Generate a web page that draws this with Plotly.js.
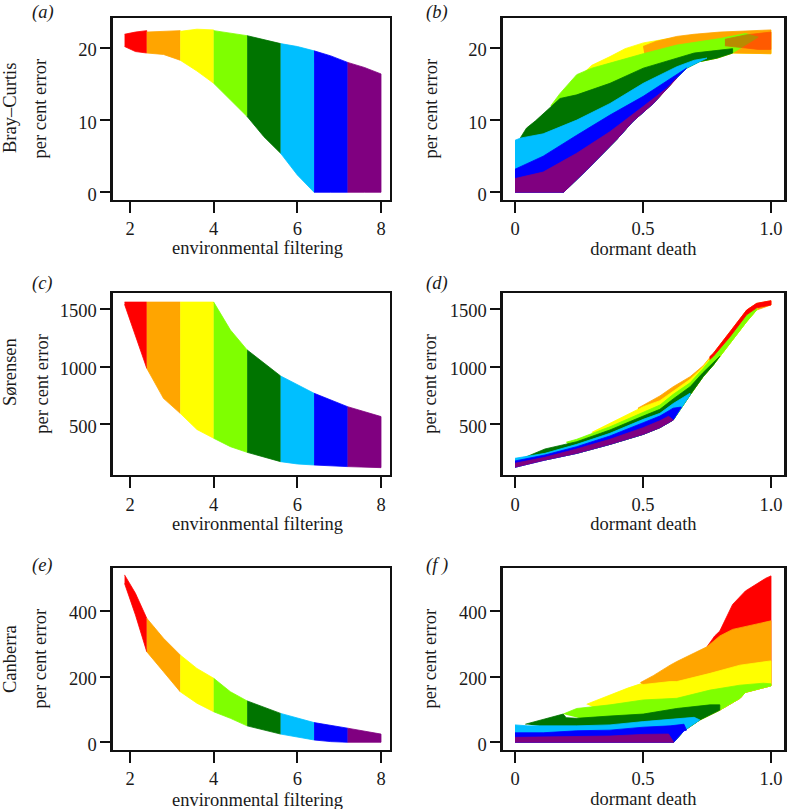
<!DOCTYPE html>
<html>
<head>
<meta charset="utf-8">
<script src="https://cdn.plot.ly/plotly-3.0.1.min.js"></script>
<style>html,body{margin:0;padding:0;background:#fff}#chart{width:787px;height:809px}</style>
</head>
<body>
<div id="chart"></div>
<script>
// colour bands, lowest parameter first
const bandColors = ['#ff0000','#ffa500','#ffff00','#7fff00','#007400','#00bfff','#0000ff','#800080'];

// ---- left column: x per band
const leftX = [[1.87,2.13,2.4],[2.4,2.8,3.2],[3.2,3.6,4],[4,4.4,4.8],[4.8,5.2,5.6],[5.6,6,6.4],[6.4,6.8,7.2],[7.2,7.6,8]];

const aTop = [[21.9,22.2,22.4],[22.2,22.3,22.4],[22.3,22.6,22.5],[22.4,22.1,21.7],[21.7,21.2,20.6],[20.6,20.2,19.6],[19.6,18.9,18],[18,17.3,16.4]];
const aBot = [[20.2,19.5,19.3],[19.3,19.1,18.3],[18.3,16.8,15.1],[15.1,12.8,10.5],[10.5,7.7,5.4],[5.4,2.4,0],[0,0,0],[0,0,0]];

const cTop = [[1560,1560,1560],[1560,1560,1560],[1560,1560,1560],[1560,1318,1145],[1145,1029,919],[919,841,769],[769,711,653],[653,610,567]];
const cBot = [[1540,1260,986],[986,725,595],[595,455,379],[379,306,257],[257,214,176],[176,156,147],[147,139,133],[133,127,124]];

const eTop = [[510,454,378],[378,317,266],[266,225,195],[195,154,126],[126,106,88],[88,73,60],[60,51,43],[43,35,25]];
const eBot = [[484,388,276],[276,215,154],[154,119,93],[93,73,50],[50,38,25],[25,15,7],[7,2,0],[0,0,0]];

// ---- right column: each band has its upper edge; the lower edge is the cloud's lower envelope unless listed
const bLowX = [0,0.19,0.28,0.397,0.46,0.54,0.59,0.63,0.67,0.72,0.79,0.85,1];
const bLowY = [0,0,3.1,7.3,9.8,12.3,14.2,15.8,17.2,18.1,18.6,19.3,19.2];
const bX = [
 [0.82,0.9,0.95,1],
 [0.5,0.55,0.632,0.7,0.8,0.9,1],
 [0.27,0.3,0.371,0.43,0.501,0.6,0.7,0.8,0.9,1],
 [0.14,0.176,0.241,0.3,0.371,0.501,0.632,0.7,0.8,0.9,0.95],
 [0.02,0.045,0.08,0.11,0.176,0.241,0.371,0.501,0.632,0.7,0.8,0.85],
 [0,0.02,0.11,0.241,0.371,0.501,0.632,0.7,0.75],
 [0,0.11,0.241,0.371,0.501,0.632,0.67],
 [0,0.11,0.241,0.371,0.501,0.6,0.632]];
const bTop = [
 [21.2,21.8,22,22.2],
 [20.2,20.9,21.6,21.9,22.2,22.4,22.5],
 [16.6,17.6,18.8,19.9,20.7,21.3,21.8,22,22,22.2],
 [12,13.7,16.3,17.2,17.9,19.2,20.4,20.8,21.3,22,21.5],
 [7.5,8.9,9.9,10.9,13,13.5,15.1,17.2,18.6,19.3,19.7,19.9],
 [7.2,7.5,8.1,10,12.3,15.1,17.4,18.3,18.6],
 [3.2,5,7.9,10.7,13.3,16.3,17.2],
 [1.9,2.8,5.4,8.4,11.9,14.6,15.8]];
const bBot = [[20.3,20,19.8,19.8],null,null,null,null,null,null,null];

const dLowX = [0,0.117,0.241,0.371,0.501,0.566,0.618,0.684,0.735,0.775,0.84,0.905,0.944,1];
const dLowY = [127,190,248,326,413,471,537,754,913,1014,1202,1390,1491,1535];
const dX = [
 [0.76,0.775,0.84,0.905,0.944,1],
 [0.48,0.501,0.566,0.618,0.684,0.735,0.775,0.84,0.905,0.944,1],
 [0.3,0.371,0.501,0.566,0.618,0.684,0.735,0.775,0.84,0.905,0.95],
 [0.2,0.241,0.371,0.501,0.566,0.618,0.684,0.735,0.775,0.84,0.905,0.944],
 [0.03,0.117,0.241,0.371,0.501,0.566,0.618,0.684,0.735,0.775,0.8],
 [0,0.117,0.241,0.371,0.501,0.566,0.618,0.684],
 [0,0.117,0.241,0.371,0.501,0.566,0.618,0.65],
 [0,0.117,0.241,0.371,0.501,0.566,0.6,0.618]];
const dTop = [
 [1085,1116,1303,1491,1549,1572],
 [640,667,746,826,913,1008,1116,1303,1491,1549,1572],
 [430,509,653,705,790,890,1000,1105,1285,1475,1545],
 [345,370,479,609,667,760,860,985,1090,1265,1445,1530],
 [205,286,349,451,572,630,720,826,950,1040,1090],
 [205,248,326,422,543,595,680,770],
 [182,234,306,399,514,572,640,650],
 [162,214,286,370,471,531,570,537]];
const dBot = [[1060,1090,1260,1450,1510,1535],null,null,null,null,null,null,null];

const fLowX = [0,0.62,0.66,0.722,0.8,0.879,0.9,1];
const fLowY = [0,0,35,68,98,134,152,172];
const fX = [
 [0.75,0.78,0.8,0.85,0.9,0.95,0.98,1],
 [0.49,0.54,0.606,0.632,0.7,0.75,0.8,0.85,1],
 [0.28,0.33,0.371,0.44,0.49,0.501,0.606,0.632,0.762,0.879,1],
 [0.188,0.241,0.371,0.501,0.632,0.762,0.879,0.97,1],
 [0.04,0.11,0.188,0.2,0.241,0.371,0.501,0.632,0.762,0.8],
 [0,0.05,0.241,0.371,0.501,0.632,0.7,0.722],
 [0,0.11,0.241,0.371,0.501,0.606,0.66,0.67],
 [0,0.241,0.371,0.501,0.6,0.62]];
const fTop = [
 [291,324,339,420,461,486,500,507],
 [182,203,235,246,272,291,324,344,370],
 [116,132,144,165,178,176,185,185,210,235,248],
 [86,103,114,129,134,159,174,180,178],
 [55,70,86,75,73,80,86,103,114,114],
 [53,50,50,53,63,73,76,68],
 [29,29,35,37,46,50,55,37],
 [15,17,19,24,25,0]];
const fBot = [null,null,null,null,null,null,null,null];

const xLeftTicks = [2,4,6,8];
const xRightTicks = [0,0.5,1];
const xRightLabels = ['0','0.5','1.0'];
const xLeftTitle = 'environmental filtering';
const xRightTitle = 'dormant death';
const yTitle = 'per cent error';
const rowTitles = ['Bray–Curtis','Sørensen','Canberra'];
const panelLabels = ['(a)','(b)','(c)','(d)','(e)','(f )'];

const W = 787, H = 809, FS = 18.5;
const SERIF = '"Liberation Serif","Times New Roman",serif';
const INK = '#1a1a1a';

function poly(i, xs, ys, xa, ya, opacity){
  return {
    type:'scatter', mode:'lines', xaxis:xa, yaxis:ya, x:xs, y:ys,
    fill:'toself', fillcolor:bandColors[i], opacity:opacity===undefined?1:opacity,
    line:{color:bandColors[i], width:0.8},
    hoverinfo:'skip', showlegend:false
  };
}
function leftBands(tops, bots, xa, ya){
  return bandColors.map((c,i) => poly(i,
    leftX[i].concat(leftX[i].slice().reverse()),
    tops[i].concat(bots[i].slice().reverse()), xa, ya));
}
function rightBands(xs, tops, bots, lowX, lowY, xa, ya, order, alpha){
  return order.map(i => {
    const x0 = xs[i][0], x1 = xs[i][xs[i].length-1];
    let bx, by;
    if(bots[i]){ bx = xs[i]; by = bots[i]; }
    else {
      const keep = lowX.map((v,k)=>k).filter(k => lowX[k] >= x0 && lowX[k] <= x1);
      bx = keep.map(k=>lowX[k]); by = keep.map(k=>lowY[k]);
    }
    return poly(i, xs[i].concat(bx.slice().reverse()), tops[i].concat(by.slice().reverse()), xa, ya,
                alpha && alpha[i]);
  });
}
const traces = [].concat(
  leftBands(aTop,aBot,'x','y'),
  rightBands(bX,bTop,bBot,bLowX,bLowY,'x2','y2',[2,1,3,4,5,6,7,0],{0:0.45}),
  leftBands(cTop,cBot,'x3','y3'),
  rightBands(dX,dTop,dBot,dLowX,dLowY,'x4','y4',[1,2,3,4,5,6,7,0]),
  leftBands(eTop,eBot,'x5','y5'),
  rightBands(fX,fTop,fBot,fLowX,fLowY,'x6','y6',[0,1,2,3,4,5,6,7])
);

const colPx = [[112.9,389.5],[502.9,784]];
const rowPx = [[18,199.5],[293.2,474.8],[568,749.5]];
const xRanges = [[1.591,8.203],[-0.0473,1.0508]];
const yRanges = [[-1.0,24.15],[62,1637],[-22,531]];
const yTicks = [[0,10,20],[500,1000,1500],[0,200,400]];

const layout = {
  width:W, height:H, margin:{l:0,r:0,t:0,b:0},
  paper_bgcolor:'#fff', plot_bgcolor:'#fff',
  showlegend:false, font:{family:SERIF,color:INK,size:FS},
  annotations:[]
};
const xStand = [3,3,7];
const yStand = [[27,26],[6.5,8],[17.5,18]];
const leftTitleY = [248,523.5,800];
const tickFont = {family:SERIF,size:FS,color:INK};
for(let r=0;r<3;r++){
  for(let c=0;c<2;c++){
    const n = r*2+c+1, sfx = n===1?'':n;
    const xa = {
      domain:[colPx[c][0]/W, colPx[c][1]/W], range:xRanges[c],
      anchor:'y'+sfx, showgrid:false, zeroline:false,
      showline:true, mirror:true, linewidth:2.5, linecolor:'#111',
      ticks:'outside', ticklen:11, tickwidth:2.2, tickcolor:'#111',
      tickmode:'array',
      tickvals: c===0?xLeftTicks:xRightTicks,
      ticktext: c===0?xLeftTicks.map(String):xRightLabels,
      tickfont:tickFont
    };
    if(c===1) xa.title = {text:xRightTitle, font:tickFont, standoff:xStand[r]};
    layout['xaxis'+sfx] = xa;
    layout['yaxis'+sfx] = {
      domain:[1-rowPx[r][1]/H, 1-rowPx[r][0]/H], range:yRanges[r],
      anchor:'x'+sfx, showgrid:false, zeroline:false,
      showline:true, mirror:true, linewidth:2.5, linecolor:'#111',
      ticks:'outside', ticklen:10, tickwidth:2.2, tickcolor:'#111',
      tickmode:'array', tickvals:yTicks[r], ticktext:yTicks[r].map(String),
      ticklabelshift:2,
      tickfont:tickFont,
      title:{text:yTitle, font:tickFont, standoff:yStand[r][c]}
    };
    const lx = c===0?30:423.5;
    const ly = [12,283,565][r];
    layout.annotations.push({xref:'paper',yref:'paper',x:lx/W,y:1-ly/H,xanchor:'left',yanchor:'middle',
      showarrow:false,text:'<i>'+panelLabels[n-1]+'</i>',font:tickFont});
  }
  layout.annotations.push({xref:'paper',yref:'paper',x:10/W,y:1-[108,372,659][r]/H,
    xanchor:'center',yanchor:'middle',textangle:-90,showarrow:false,text:rowTitles[r],font:tickFont});
  layout.annotations.push({xref:'paper',yref:'paper',x:257/W,y:1-leftTitleY[r]/H,
    xanchor:'center',yanchor:'middle',showarrow:false,text:xLeftTitle,font:tickFont});
}
Plotly.newPlot('chart',traces,layout,{displayModeBar:false,responsive:false,staticPlot:true});
</script>
</body>
</html>
